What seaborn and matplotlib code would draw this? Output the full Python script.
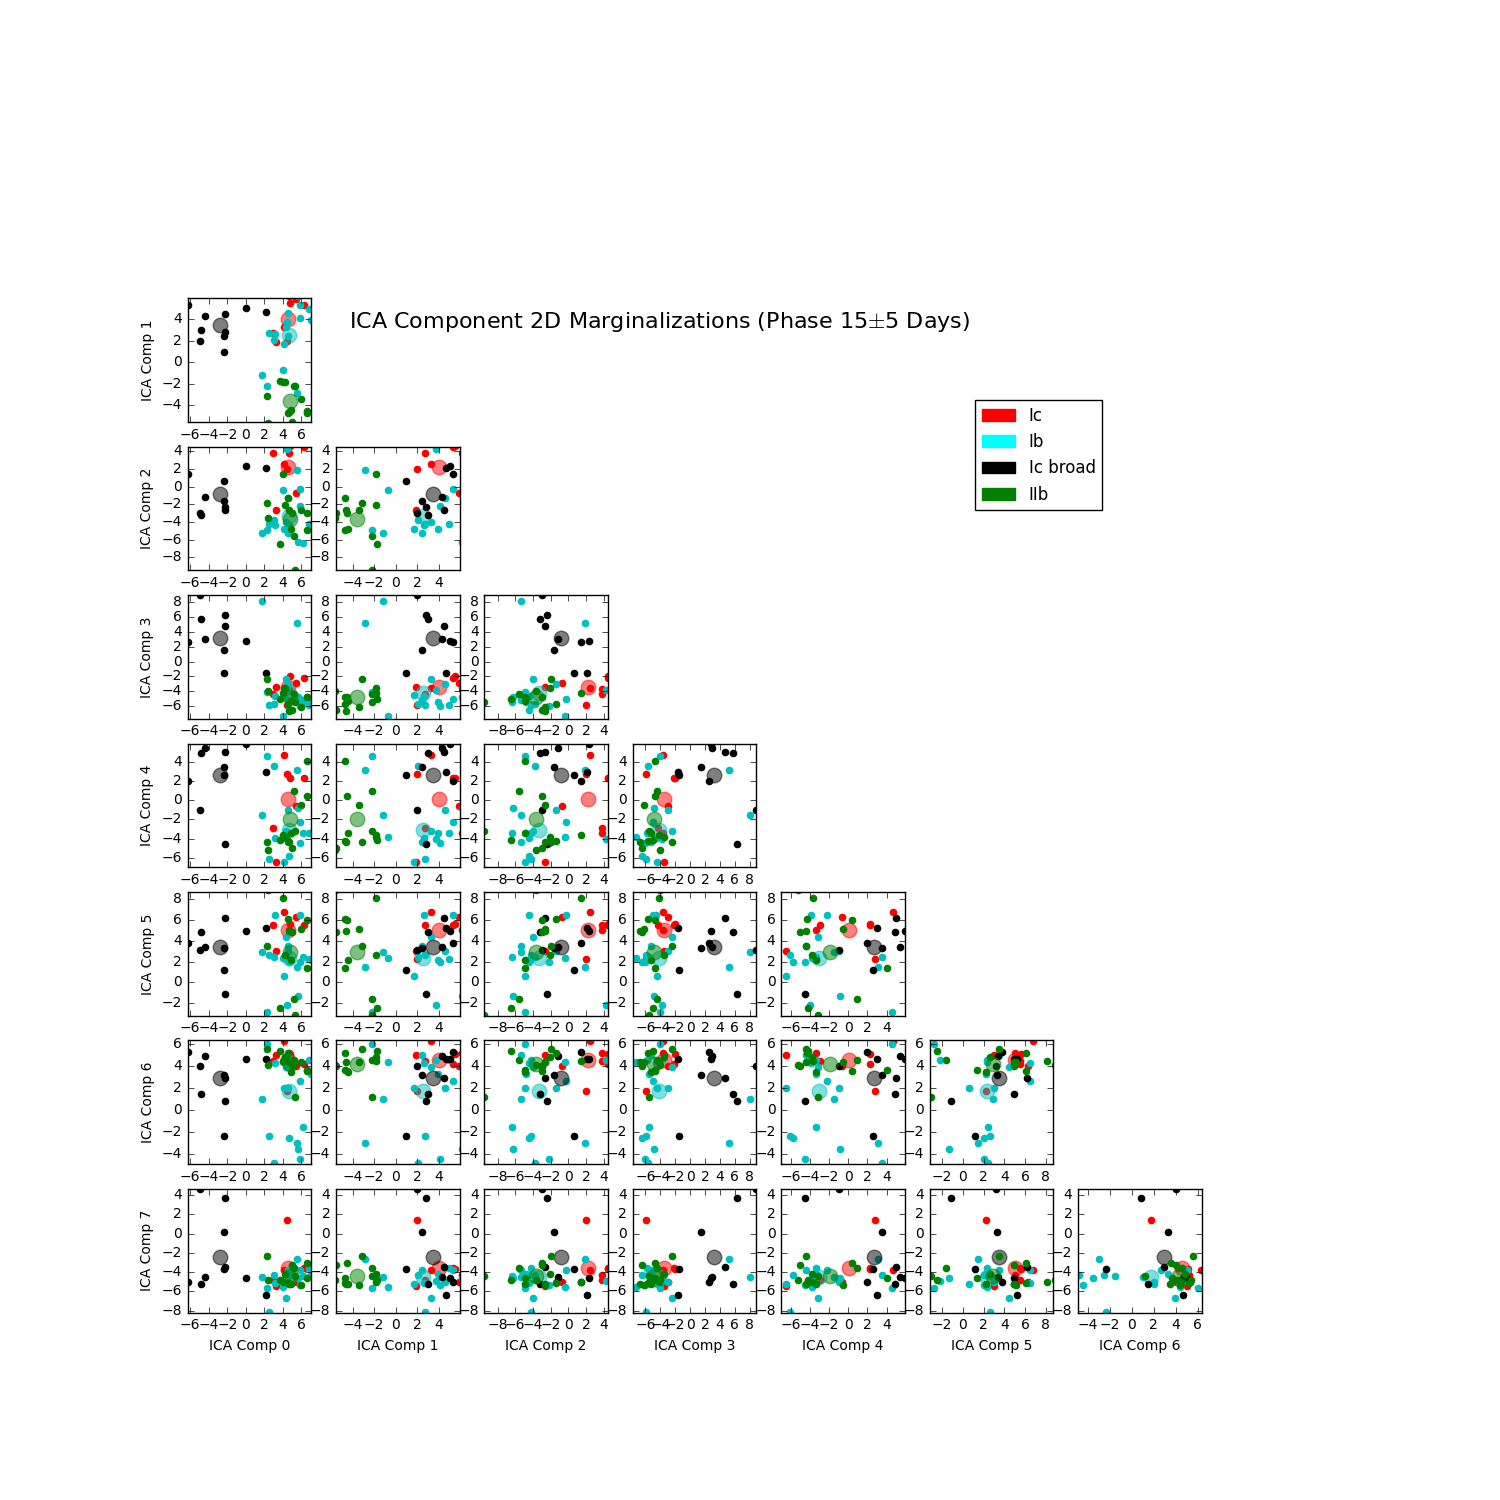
import numpy as np
import matplotlib
matplotlib.use('Agg')
import matplotlib.pyplot as plt
import matplotlib.patches as mpatches
import seaborn as sns

plt.style.use('classic')
plt.rcParams['font.size'] = 10
plt.rcParams['figure.facecolor'] = 'white'
plt.rcParams['font.family'] = ['DejaVu Sans']

n_comp = 8
comp_labels = ['ICA Comp %d' % k for k in range(n_comp)]
comp_limits = [(-6.3, 7.05), (-5.55, 5.95), (-9.5, 4.5), (-7.7, 8.9),
               (-7.0, 5.9), (-3.2, 8.7), (-4.9, 6.35), (-8.2, 4.65)]

# one row per supernova, columns = ICA components 0..7
ic = np.array([
    [2.95, 2.7, 3.8, -4.35, -2.9, 5.55, 4.5, -4.85],
    [3.2, 1.9, -2.65, -3.45, -6.45, 3.05, 5.05, -5.4],
    [4.1, 3.25, 2.5, -3.6, 4.7, 6.8, 6.3, -3.75],
    [4.45, 2.0, 2.0, -5.85, 2.75, 2.25, 1.75, 1.45],
    [4.8, 5.5, 4.55, -2.0, 2.3, 5.6, 5.1, -3.7],
    [5.45, 5.9, -0.75, -2.9, -0.6, 6.3, 4.05, -5.0],
    [6.3, 5.3, 4.5, -2.2, 2.3, 5.5, 4.2, -3.6],
    [4.7, 6.2, 3.8, -3.7, -3.4, 5.0, 5.2, -4.3],
])

ib = np.array([
    [1.7, -1.2, -5.3, 8.1, -1.5, 2.95, 1.05, -4.5],
    [2.25, -2.15, -4.95, -4.05, 4.6, -2.8, 6.05, -5.65],
    [2.45, 2.7, -4.2, -5.9, -6.1, 2.6, -2.35, -8.1],
    [3.0, 2.05, -3.8, -5.7, 3.55, 2.45, -4.8, -4.3],
    [3.15, 2.6, -4.4, -4.6, -3.9, 6.5, 4.3, -5.1],
    [4.05, -0.7, -0.4, -7.25, -3.8, 2.35, 4.35, -5.5],
    [4.15, 1.7, -4.85, -4.5, -6.5, 0.6, 2.05, -5.2],
    [4.35, 3.3, -4.0, -2.4, -3.2, 4.4, 3.9, -6.7],
    [4.45, 3.8, 4.25, -3.8, -4.0, -2.15, 4.6, -4.9],
    [4.5, 2.5, -5.3, -5.2, -4.4, 3.5, 5.0, -3.8],
    [4.6, 4.6, -1.35, -3.0, -1.0, 3.0, 2.0, -5.0],
    [4.7, 6.4, -4.4, -6.5, -5.8, 2.0, -2.5, -4.3],
    [5.5, -2.85, 1.9, 5.2, 3.1, 1.5, -3.0, -2.65],
    [5.6, 6.2, -6.25, -4.8, -0.85, -1.35, -3.5, -4.6],
    [5.8, 5.3, -0.3, -5.0, -2.25, 6.45, 2.7, -3.8],
    [5.85, 4.15, -2.2, -6.0, -4.5, 2.0, -4.45, -5.3],
    [6.2, 6.5, -6.35, -5.5, -3.4, 2.45, -1.55, -4.4],
    [6.8, 5.0, -4.2, -5.8, -3.4, 2.3, 4.6, -3.6],
    [7.0, 3.9, -4.75, -5.5, -3.4, 2.2, 3.3, -4.2],
])

ic_broad = np.array([
    [-6.25, 5.3, 1.4, 2.6, 2.0, 3.75, 5.3, -5.0],
    [-4.4, 4.3, -1.2, 3.0, 5.45, 3.4, 4.9, -4.5],
    [-4.8, 3.0, -3.2, 5.7, 4.9, 4.9, 1.5, -5.2],
    [-4.95, 1.95, -3.0, 8.9, -1.0, 3.15, 4.0, 4.65],
    [-2.2, 4.5, -2.65, 4.75, 5.0, 6.2, 2.95, -3.5],
    [-2.25, 2.8, -2.35, 6.3, -4.55, -1.15, 0.85, 3.7],
    [-2.4, 2.5, -1.6, 1.5, 3.5, 3.3, 3.25, 0.2],
    [-2.4, 0.95, 0.65, -1.5, 2.6, 1.15, -2.35, -3.7],
    [0.0, 5.1, 2.3, 2.8, 5.9, 4.95, 4.7, -4.6],
    [2.2, 4.65, 2.1, -1.6, 2.95, 5.2, 4.65, -6.4],
])

iib = np.array([
    [2.25, -3.15, -1.9, -2.4, -4.4, 3.5, 5.55, -2.35],
    [2.35, -5.6, -3.6, -4.0, -5.2, 8.9, 4.1, -4.8],
    [3.7, -1.75, -6.45, -5.0, -4.2, -2.5, 5.4, -4.8],
    [4.0, -1.8, 1.45, -4.2, -3.65, 8.1, 4.5, -5.0],
    [4.25, -1.8, -2.1, -3.5, -3.8, 2.6, 4.8, -4.2],
    [4.7, -4.65, -2.65, -6.7, -4.4, 4.95, 4.4, -5.2],
    [5.25, -2.2, -5.6, -4.4, 0.95, -1.6, 4.6, -3.6],
    [5.35, -2.2, -9.5, -5.5, -3.2, -3.1, 1.2, -4.4],
    [5.95, -3.4, -2.65, -6.15, -0.5, 5.1, 4.35, -5.3],
    [6.55, -4.5, -2.95, -4.7, 0.4, 6.05, 3.6, -3.1],
    [6.6, -4.7, -4.95, -4.7, 4.05, 1.4, 3.7, -4.6],
    [4.5, -4.7, -1.35, -5.7, -4.3, 6.1, 5.2, -5.1],
    [4.9, -4.4, -4.85, -5.3, -3.4, 2.2, 3.5, -5.2],
    [5.0, -5.5, -3.0, -6.5, -5.0, 4.9, 4.0, -3.3],
])

# group centroids (large translucent markers)
ic_mean = [4.6, 4.05, 2.25, -3.45, 0.1, 5.0, 4.6, -3.6]
ib_mean = [4.7, 2.55, -3.35, -4.2, -3.1, 2.35, 1.75, -4.5]
ic_broad_mean = [-2.75, 3.45, -0.85, 3.2, 2.65, 3.45, 2.95, -2.45]
iib_mean = [4.75, -3.55, -3.65, -4.8, -1.95, 2.95, 4.25, -4.4]

type_names = ['Ic', 'Ib', 'Ic broad', 'IIb']
type_data = [ic, ib, ic_broad, iib]
type_means = [ic_mean, ib_mean, ic_broad_mean, iib_mean]
point_colors = ['r', 'c', 'k', 'g']
legend_colors = ['red', 'cyan', 'black', 'green']

fig = plt.figure(figsize=(15, 15), dpi=100)
gs = fig.add_gridspec(n_comp, n_comp, left=0.125, right=0.9, bottom=0.125,
                      top=0.9, wspace=0.2, hspace=0.2)

for i in range(1, n_comp):
    for j in range(i):
        ax = fig.add_subplot(gs[i, j])
        for data, mean, col in zip(type_data, type_means, point_colors):
            sns.scatterplot(x=data[:, j], y=data[:, i], color=col, s=20,
                            edgecolor='face', linewidth=1, ax=ax)
            sns.scatterplot(x=[mean[j]], y=[mean[i]], color=col, s=110,
                            alpha=0.5, edgecolor='face', linewidth=1, ax=ax)
        ax.set_xlim(comp_limits[j])
        ax.set_ylim(comp_limits[i])
        ax.set_xlabel('')
        ax.set_ylabel('')
        if j == 0:
            ax.set_ylabel(comp_labels[i])
        if i == n_comp - 1:
            ax.set_xlabel(comp_labels[j])

fig.text(0.4395, 0.785, 'ICA Component 2D Marginalizations (Phase 15$\\pm$5 Days)',
         ha='center', va='center', fontsize=16)

handles = [mpatches.Patch(facecolor=c, edgecolor=c, label=n)
           for n, c in zip(type_names, legend_colors)]
fig.legend(handles=handles, loc='upper left', bbox_to_anchor=(0.6447, 0.7388),
           bbox_transform=fig.transFigure, fontsize=12)

fig.savefig('out.png', dpi=100, facecolor='white')
